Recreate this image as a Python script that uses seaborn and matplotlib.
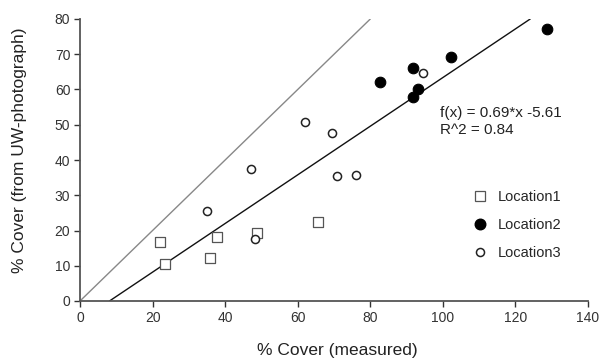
import numpy as np
import pandas as pd
import matplotlib
matplotlib.use("Agg")
import matplotlib.pyplot as plt
import seaborn as sns
from matplotlib.lines import Line2D

loc1_x = [22.0, 23.5, 35.7, 37.7, 48.8, 65.6]
loc1_y = [16.6, 10.4, 12.1, 18.2, 19.2, 22.5]
loc2_x = [82.6, 91.7, 93.1, 91.7, 102.3, 128.6]
loc2_y = [62.2, 66.0, 60.1, 57.8, 69.3, 77.1]
loc3_x = [94.5, 62.0, 69.5, 70.9, 76.0, 47.1, 34.9, 48.1]
loc3_y = [64.8, 50.7, 47.6, 35.5, 35.7, 37.4, 25.6, 17.6]
labels = ["Location1", "Location2", "Location3"]
fit_slope, fit_intercept = 0.69, -5.61
x_ticks = [0, 20, 40, 60, 80, 100, 120, 140]
y_ticks = [0, 10, 20, 30, 40, 50, 60, 70, 80]

sns.set_theme(style="ticks")
plt.rcParams['font.family'] = ['Liberation Sans', 'DejaVu Sans']

fig = plt.figure(figsize=(6, 3.6), dpi=100)
ax = fig.add_axes([80/600, 1-301/360, 508/600, 282/360])

df = pd.concat([
    pd.DataFrame({"x": loc1_x, "y": loc1_y, "loc": labels[0]}),
    pd.DataFrame({"x": loc2_x, "y": loc2_y, "loc": labels[1]}),
    pd.DataFrame({"x": loc3_x, "y": loc3_y, "loc": labels[2]}),
])

ax.axline((0, 0), slope=1, color="#888888", lw=1.0, zorder=1)
ax.axline((0, fit_intercept), slope=fit_slope, color="#111111", lw=1.0, zorder=1)

styles = {
    labels[0]: dict(marker="s", s=42, facecolor="white", edgecolor="#555555", linewidth=0.9),
    labels[1]: dict(marker="o", s=58, facecolor="black", edgecolor="black", linewidth=0.8),
    labels[2]: dict(marker="o", s=34, facecolor="white", edgecolor="#222222", linewidth=1.1),
}
for lab in labels:
    sub = df[df["loc"] == lab]
    sns.scatterplot(data=sub, x="x", y="y", ax=ax, legend=False, zorder=3, **styles[lab])

ax.set_xlim(0, 140)
ax.set_ylim(0, 80)
ax.set_xticks(x_ticks)
ax.set_yticks(y_ticks)
ax.set_xlabel("% Cover (measured)", fontsize=12.5, color="#222222")
ax.set_ylabel("% Cover (from UW-photograph)", fontsize=12.5, color="#222222")
ax.xaxis.set_label_coords(0.507, -0.15)
ax.yaxis.set_label_coords(-0.105, 0.535)
ax.tick_params(axis="both", labelsize=10, colors="#333333", length=4, width=1, direction="out", pad=3)
for side in ["top", "right"]:
    ax.spines[side].set_visible(False)
for side in ["left", "bottom"]:
    ax.spines[side].set_color("#555555")
    ax.spines[side].set_linewidth(1.3)

ax.text(99.3, 55.2, "f(x) = 0.69*x -5.61\nR^2 = 0.84", fontsize=11, color="#222222",
        va="top", ha="left", linespacing=1.25)

handles = [
    Line2D([], [], linestyle="none", marker="s", markersize=6.5, markerfacecolor="white", markeredgecolor="#555555", markeredgewidth=0.9),
    Line2D([], [], linestyle="none", marker="o", markersize=7.6, markerfacecolor="black", markeredgecolor="black"),
    Line2D([], [], linestyle="none", marker="o", markersize=5.8, markerfacecolor="white", markeredgecolor="#222222", markeredgewidth=1.1),
]
ax.legend(handles, labels, loc="center left", bbox_to_anchor=(0.745, 0.27), frameon=False,
          fontsize=10.5, handletextpad=0.59, labelspacing=0.97, handlelength=1.2)

fig.savefig("out.png", dpi=100)
